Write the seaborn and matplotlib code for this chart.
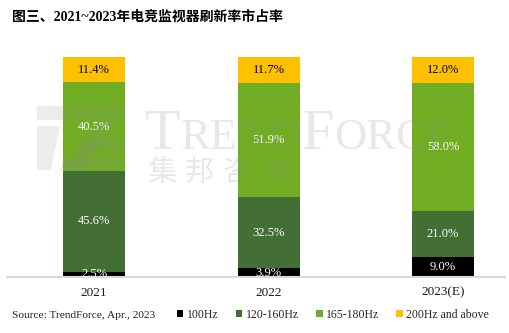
import matplotlib
matplotlib.use("Agg")
import matplotlib.pyplot as plt
from matplotlib.patches import Patch, Polygon
import seaborn as sns
import numpy as np

# Data: share of gaming monitors by refresh rate (%)
years = ["2021", "2022", "2023(E)"]
series_names = ["100Hz", "120-160Hz", "165-180Hz", "200Hz and above"]
hz100 = [2.5, 3.9, 9.0]
hz120_160 = [45.6, 32.5, 21.0]
hz165_180 = [40.5, 51.9, 58.0]
hz200_up = [11.4, 11.7, 12.0]

colors = ["#000000", "#436F35", "#71AD22", "#FFC000"]
label_colors = ["white", "white", "white", "black"]

title = "图三、2021~2023年电竞监视器刷新率市占率"
source = "Source: TrendForce, Apr., 2023"

sns.set_theme(style="white")
plt.rcParams["font.family"] = ["Liberation Serif", "Noto Sans CJK SC"]

W, H = 510, 333
fig = plt.figure(figsize=(W / 100, H / 100), dpi=100)
fig.patch.set_facecolor("white")


def px(x, y):
    return x / W, 1 - y / H


ax = fig.add_axes([7 / W, (H - 277) / H, (505 - 7) / W, 220 / H])
ax.set_facecolor("white")

all_series = [hz100, hz120_160, hz165_180, hz200_up]
bottom = np.zeros(len(years))
for vals, col, lc in zip(all_series, colors, label_colors):
    sns.barplot(x=years, y=vals, bottom=bottom, color=col, width=0.355,
                linewidth=0, saturation=1, ax=ax)
    for i, v in enumerate(vals):
        ax.text(i, bottom[i] + v / 2, f"{v:.1f}%", ha="center", va="center",
                fontsize=9, color=lc, family="Liberation Serif", zorder=5)
    bottom = bottom + np.array(vals)

ax.set_xlim(-0.5, 2.355)
ax.set_ylim(0, 100)
ax.set_yticks([])
ax.set_xlabel("")
ax.set_ylabel("")
for s in ["top", "left", "right"]:
    ax.spines[s].set_visible(False)
ax.spines["bottom"].set_color("#D9D9D9")
ax.spines["bottom"].set_linewidth(1.5)
ax.tick_params(axis="x", length=0, pad=7, labelsize=9.5, labelcolor="#1a1a1a")
for t in ax.get_xticklabels():
    t.set_family("Liberation Serif")

# Title
fig.text(*px(12, 17), title, fontsize=10, fontweight="bold", ha="left",
         va="center", color="black",
         family=["Liberation Serif", "Noto Sans CJK SC"])

# Source note
fig.text(*px(12, 315), source, fontsize=8.2, ha="left", va="center",
         color="#222222", family="Liberation Serif")

# Legend
handles = [Patch(facecolor=c, edgecolor="none") for c in colors]
fig.legend(handles, series_names, loc="center left",
           bbox_to_anchor=px(177, 315), ncol=4, frameon=False,
           prop={"family": "Liberation Serif", "size": 8.5},
           handlelength=0.55, handleheight=0.55, handletextpad=0.3,
           columnspacing=1.45, borderaxespad=0, borderpad=0)

# Watermark: logo mark
wm_color = "#8C8C8C"
logo_shapes = [
    [(37, 106), (125, 106), (122, 120), (37, 120)],
    [(37, 126), (60, 126), (51, 170), (37, 170)],
    [(98, 120), (116, 120), (84, 170), (64, 170)],
    [(80, 138), (126, 138), (123, 151), (74, 151)],
    [(64, 158), (121, 158), (118, 170), (60, 170)],
]
for shp in logo_shapes:
    poly = Polygon([px(x, y) for x, y in shp], closed=True,
                   transform=fig.transFigure, facecolor=wm_color,
                   edgecolor="none", alpha=0.16, zorder=10)
    fig.add_artist(poly)

# Watermark: wordmark in small caps
fig.canvas.draw()
renderer = fig.canvas.get_renderer()
x_cur = 145
parts = [("T", 42), ("REND", 32), ("F", 42), ("ORCE", 32)]
for txt, size in parts:
    t = fig.text(x_cur / W, 1 - 149 / H, txt, fontsize=size,
                 family="Liberation Serif", color=wm_color, alpha=0.2,
                 ha="left", va="baseline", zorder=10)
    bb = t.get_window_extent(renderer)
    x_cur += bb.width

for k, ch in enumerate("集邦咨询"):
    fig.text((147 + k * 38) / W, 1 - 173 / H, ch, fontsize=21,
             family="Noto Sans CJK SC", color=wm_color, alpha=0.2,
             ha="left", va="center", zorder=10)

fig.savefig("out.png", dpi=100, facecolor="white")
